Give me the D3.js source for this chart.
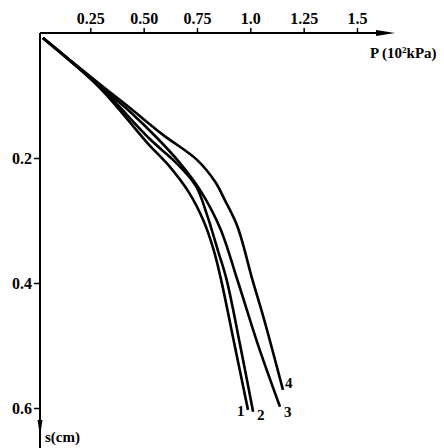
<!DOCTYPE html>
<html>
<head>
<meta charset="utf-8">
<script src="https://cdn.jsdelivr.net/npm/d3@7"></script>
<style>
  body { margin: 0; background: #fff; }
  text { font-family: "Liberation Serif", "DejaVu Serif", serif; font-weight: bold; fill: #000; }
</style>
</head>
<body>
<div id="chart"></div>
<script>
// pressure P (10^2 kPa) vs settlement s (cm), curves 1..4
var xTicks = [0.25, 0.50, 0.75, 1.0, 1.25, 1.5];
var xTickLabels = ["0.25", "0.50", "0.75", "1.0", "1.25", "1.5"];
var yTicks = [0.2, 0.4, 0.6];
var curveNames = ["1", "2", "3", "4"];

var curve1 = [[0.028,0.008],[0.295,0.088],[0.520,0.177],[0.620,0.213],[0.712,0.255],[0.780,0.300],[0.828,0.347],[0.863,0.395],[0.926,0.499],[0.989,0.603]];
var curve2 = [[0.028,0.008],[0.295,0.086],[0.530,0.170],[0.650,0.207],[0.745,0.245],[0.797,0.291],[0.847,0.347],[0.889,0.395],[0.952,0.499],[1.013,0.606]];
var curve3 = [[0.028,0.008],[0.295,0.085],[0.436,0.126],[0.563,0.168],[0.670,0.208],[0.764,0.251],[0.858,0.312],[0.942,0.398],[1.036,0.499],[1.139,0.598]];
var curve4 = [[0.028,0.008],[0.295,0.082],[0.436,0.120],[0.591,0.163],[0.750,0.203],[0.835,0.238],[0.880,0.267],[0.940,0.310],[1.010,0.395],[1.065,0.459],[1.153,0.571]];

var curves = [curve1, curve2, curve3, curve4];
// label offsets from curve end (px)
var labelDx = [-11, 4, 4, 2];
var labelDy = [6, 8, 10, -2];

var width = 444, height = 448;
var x = d3.scaleLinear().domain([0, 1.5]).range([37, 357]);
var y = d3.scaleLinear().domain([0, 0.6]).range([33, 408]);

var svg = d3.select("#chart").append("svg")
    .attr("width", width)
    .attr("height", height);

// axis lines with arrows
svg.append("line")
    .attr("x1", 40).attr("y1", 33).attr("x2", 382).attr("y2", 33)
    .attr("stroke", "#000").attr("stroke-width", 2);
svg.append("path")
    .attr("d", "M376,30 L395,33 L376,36 Z")
    .attr("fill", "#000");
svg.append("line")
    .attr("x1", 40).attr("y1", 33).attr("x2", 40).attr("y2", 448)
    .attr("stroke", "#000").attr("stroke-width", 2);
svg.append("path")
    .attr("d", "M37.5,420 L40,436 L42.5,420 Z")
    .attr("fill", "#000");

// x axis on top
var xAxis = svg.append("g")
    .attr("transform", "translate(0,33)")
    .call(d3.axisTop(x).tickValues(xTicks).tickSize(5).tickPadding(4)
        .tickFormat(function(d, i) { return xTickLabels[i]; }));
xAxis.select(".domain").remove();
xAxis.selectAll("line").attr("stroke-width", 1.5);
xAxis.selectAll("text")
    .style("font-family", "'Liberation Serif', serif")
    .style("font-weight", "bold")
    .style("font-size", "16px");

// y axis on left
var yAxis = svg.append("g")
    .attr("transform", "translate(40,0)")
    .call(d3.axisLeft(y).tickValues(yTicks).tickSize(6).tickPadding(2)
        .tickFormat(d3.format(".1f")));
yAxis.select(".domain").remove();
yAxis.selectAll("line").attr("stroke-width", 1.5);
yAxis.selectAll("text")
    .style("font-family", "'Liberation Serif', serif")
    .style("font-weight", "bold")
    .style("font-size", "16px");

// axis titles
var pTitle = svg.append("text")
    .attr("x", 370).attr("y", 58)
    .style("font-size", "15px");
pTitle.append("tspan").text("P (10");
pTitle.append("tspan").attr("dy", -5).style("font-size", "9px").text("2");
pTitle.append("tspan").attr("dy", 5).text("kPa)");

svg.append("text")
    .attr("x", 45).attr("y", 442)
    .style("font-size", "15px")
    .text("s(cm)");

// curves
var line = d3.line()
    .x(function(d) { return x(d[0]); })
    .y(function(d) { return y(d[1]); })
    .curve(d3.curveCatmullRom.alpha(0.5));

svg.selectAll("path.curve")
    .data(curves)
    .enter()
    .append("path")
    .attr("class", "curve")
    .attr("d", line)
    .attr("fill", "none")
    .attr("stroke", "#000")
    .attr("stroke-width", 2.6);

svg.selectAll("text.clabel")
    .data(curves)
    .enter()
    .append("text")
    .attr("class", "clabel")
    .attr("x", function(d, i) { return x(d[d.length - 1][0]) + labelDx[i]; })
    .attr("y", function(d, i) { return y(d[d.length - 1][1]) + labelDy[i]; })
    .style("font-size", "15px")
    .text(function(d, i) { return curveNames[i]; });
</script>
</body>
</html>
